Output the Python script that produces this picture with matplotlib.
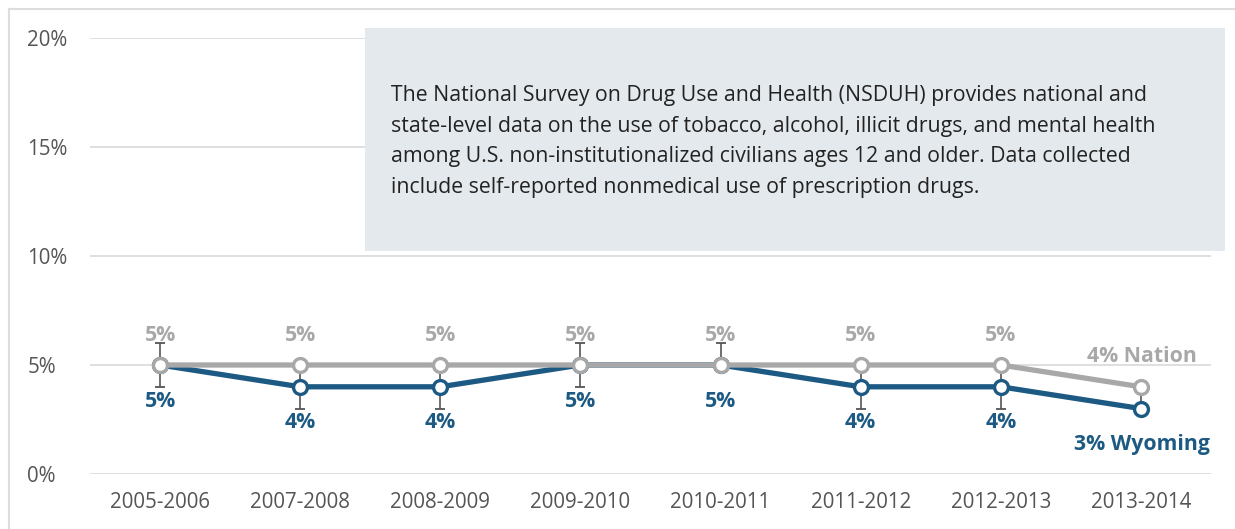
import matplotlib
matplotlib.use('Agg')
import matplotlib.pyplot as plt
from matplotlib.patches import Rectangle
from matplotlib.lines import Line2D

plt.rcParams['font.family'] = ['Open Sans', 'DejaVu Sans']

# data
years = ['2005-2006', '2007-2008', '2008-2009', '2009-2010',
         '2010-2011', '2011-2012', '2012-2013', '2013-2014']
wyoming = [5, 4, 4, 5, 5, 4, 4, 3]
nation = [5, 5, 5, 5, 5, 5, 5, 4]
wy_low = [4, 3, 3, 4, 5, 3, 3, 3]
wy_high = [6, 5, 5, 6, 6, 5, 5, 4]

wy_color = '#1d5a83'
nat_color = '#a8a8a8'
err_color = '#555555'
fs = 15.3

fig = plt.figure(figsize=(12.35, 5.29), dpi=100)

# outer frame
fig.add_artist(Line2D([9 / 1235, 9 / 1235], [0, 1 - 9 / 529], transform=fig.transFigure,
                      color='#dddddd', lw=1.5))
fig.add_artist(Line2D([9 / 1235, 1], [1 - 9 / 529, 1 - 9 / 529], transform=fig.transFigure,
                      color='#dddddd', lw=1.5))

ax = fig.add_axes([90 / 1235, 55 / 529, 1121 / 1235, 436 / 529])
x = range(len(years))

ax.set_xlim(-0.5, len(years) - 0.5)
ax.set_ylim(0, 20)
ax.set_yticks([0, 5, 10, 15, 20])
ax.set_yticklabels(['0%', '5%', '10%', '15%', '20%'])
ax.set_xticks(list(x))
ax.set_xticklabels(years)
ax.grid(axis='y', color='#d9d9d9', lw=1.2)
ax.set_axisbelow(True)
for s in ax.spines.values():
    s.set_visible(False)
ax.tick_params(axis='both', length=0, labelsize=fs - 0.5, labelcolor='#555555')
ax.tick_params(axis='y', pad=45)
for t in ax.get_yticklabels():
    t.set_horizontalalignment('left')
ax.tick_params(axis='x', pad=13)

# error bars (Wyoming)
err_lo = [w - l for w, l in zip(wyoming, wy_low)]
err_hi = [h - w for w, h in zip(wyoming, wy_high)]
ax.errorbar(x, wyoming, yerr=[err_lo, err_hi], fmt='none', ecolor=err_color,
            elinewidth=1.2, capsize=3.5, capthick=1.3, zorder=2)

ax.plot(x, wyoming, color=wy_color, lw=3.8, marker='o', ms=10, mfc='white',
        mec=wy_color, mew=2.4, zorder=3)
ax.plot(x, nation, color=nat_color, lw=3.8, marker='o', ms=10, mfc='white',
        mec=nat_color, mew=2.4, zorder=4)

# value labels
for i in range(len(years) - 1):
    ax.annotate(f'{nation[i]}%', (i, nation[i]), xytext=(0, 21.5), textcoords='offset points',
                ha='center', va='center', fontsize=fs, fontweight='bold', color=nat_color)
    ax.annotate(f'{wyoming[i]}%', (i, wyoming[i]), xytext=(0, -26), textcoords='offset points',
                ha='center', va='center', fontsize=fs, fontweight='bold', color=wy_color)
n = len(years) - 1
ax.annotate(f'{nation[n]}% Nation', (n, nation[n]), xytext=(40, 22), textcoords='offset points',
            ha='right', va='center', fontsize=fs, fontweight='bold', color=nat_color)
ax.annotate(f'{wyoming[n]}% Wyoming', (n, wyoming[n]), xytext=(50, -26), textcoords='offset points',
            ha='right', va='center', fontsize=fs, fontweight='bold', color=wy_color)

# info box
fig.add_artist(Rectangle((365 / 1235, 1 - 251 / 529), 860 / 1235, 223 / 529,
                         transform=fig.transFigure, facecolor='#e4e9ed', edgecolor='none', zorder=5))
note = ('The National Survey on Drug Use and Health (NSDUH) provides national and\n'
        'state-level data on the use of tobacco, alcohol, illicit drugs, and mental health\n'
        'among U.S. non-institutionalized civilians ages 12 and older. Data collected\n'
        'include self-reported nonmedical use of prescription drugs.')
fig.text(391 / 1235, 1 - 85 / 529, note, ha='left', va='top', fontsize=fs,
         color='#222222', linespacing=1.6, zorder=6)

fig.savefig('out.png', dpi=100)
